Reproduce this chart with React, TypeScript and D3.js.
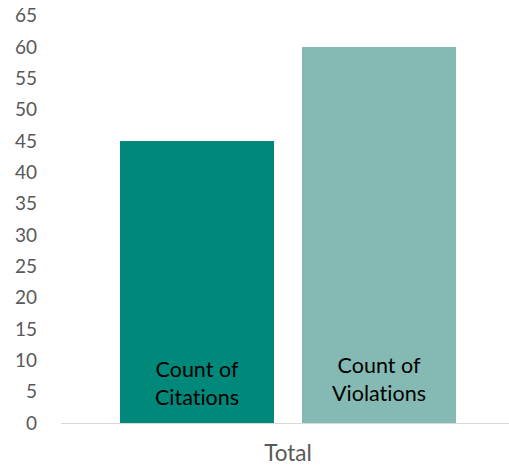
import React from "react";
import * as d3 from "d3";

const categories = ["Count of Citations", "Count of Violations"];
const labelLines = [["Count of", "Citations"], ["Count of", "Violations"]];
const values = [45, 60];
const colors = ["#00897B", "#84BAB3"];
const yTicks = [0, 5, 10, 15, 20, 25, 30, 35, 40, 45, 50, 55, 60, 65];
const xCategory = "Total";

const W = 509;
const H = 467;
const font = "Lato, 'Open Sans', sans-serif";
const noLig = { fontVariantLigatures: "none" as const };

export default function App() {
  const y = d3.scaleLinear().domain([0, 65]).range([423, 15.7]);
  const x = d3.scaleBand<string>().domain(categories).range([92, 484]).paddingInner(0.1538).paddingOuter(0.1538);
  // first-line baselines of the in-bar labels
  const labelBase = [377, 373];

  return (
    <svg width={W} height={H} style={{ position: "absolute", left: 0, top: 0 }}>
      <rect width={W} height={H} fill="#fff" />
      {yTicks.map((t) => (
        <text key={t} x={37} y={y(t)} dy="0.35em" textAnchor="end" fontFamily={font} fontSize={19} fill="#595959">
          {t}
        </text>
      ))}
      {categories.map((c, i) => (
        <rect key={c} x={x(c)} y={y(values[i])} width={x.bandwidth()} height={y(0) - y(values[i])} fill={colors[i]} />
      ))}
      {categories.map((c, i) => (
        <text key={c + "l"} textAnchor="middle" fontFamily={font} fontSize={21.5} fill="#000" style={noLig}>
          {labelLines[i].map((l, j) => (
            <tspan key={j} x={(x(c) ?? 0) + x.bandwidth() / 2} y={labelBase[i] + j * 27.5}>
              {l}
            </tspan>
          ))}
        </text>
      ))}
      <line x1={61} x2={509} y1={y(0) + 0.5} y2={y(0) + 0.5} stroke="#D9D9D9" strokeWidth={1.2} />
      <text x={288} y={461} textAnchor="middle" fontFamily={font} fontSize={22.5} fill="#595959">
        {xCategory}
      </text>
    </svg>
  );
}
